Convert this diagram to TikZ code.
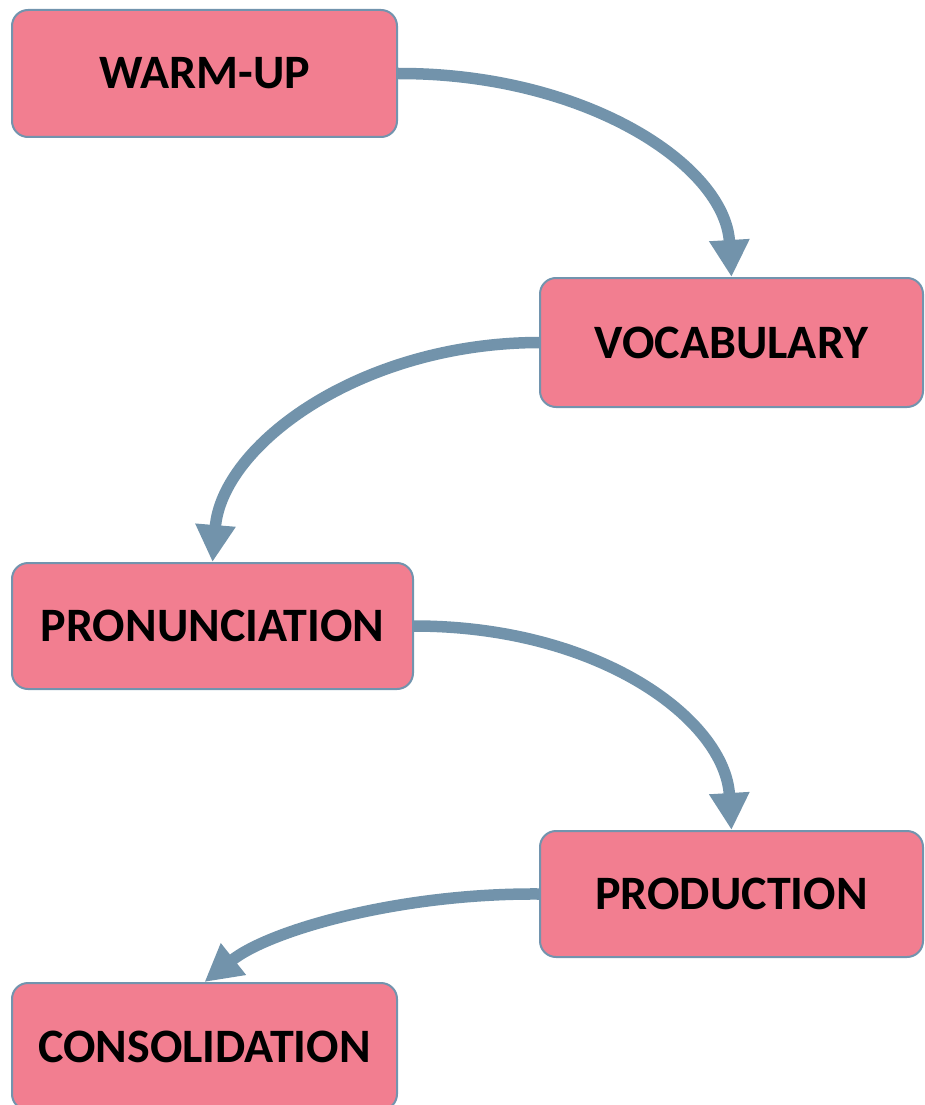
\documentclass[tikz,border=0pt]{standalone}
\usepackage{fontspec}
\setmainfont{Carlito}
\usetikzlibrary{arrows.meta}
\definecolor{boxfill}{HTML}{F27E90}
\definecolor{boxline}{HTML}{7294AE}
\definecolor{arr}{HTML}{7293AB}
\begin{document}
\begin{tikzpicture}[x=1pt,y=1pt,
  stagebox/.style={draw=boxline, line width=2pt, fill=boxfill, rounded corners=16pt,
    inner sep=0pt, font=\fontsize{48}{52}\selectfont\bfseries, text=black},
  flow/.style={draw=arr, line width=11.5pt, -{Triangle[length=37pt,width=38pt]}}]
\useasboundingbox (0,0) rectangle (925,-1105);
\clip (0,0) rectangle (925,-1105);
\node[stagebox, minimum width=385pt, minimum height=127pt] (a) at (204.5,-73.5) {\raisebox{-2pt}{WARM-UP}};
\node[stagebox, minimum width=383pt, minimum height=129pt] (b) at (731.5,-342.5) {\raisebox{-2pt}{VOCABULARY}};
\node[stagebox, minimum width=401pt, minimum height=126pt] (c) at (212.5,-626) {\raisebox{-2pt}{PRONUNCIATION}};
\node[stagebox, minimum width=383pt, minimum height=126pt] (d) at (731.5,-894) {\raisebox{-2pt}{PRODUCTION}};
\node[stagebox, minimum width=385pt, minimum height=127pt] (e) at (204.5,-1046.5) {\raisebox{-2pt}{CONSOLIDATION}};
\draw[flow] (a.east) .. controls (585,-73) and (725,-165) .. (b.north);
\draw[flow] (b.west) .. controls (360,-343) and (222,-445) .. (c.north);
\draw[flow] (c.east) .. controls (600,-626) and (725,-720) .. (d.north);
\draw[flow] (d.west) .. controls (400,-893) and (270,-930) .. (e.north);
\end{tikzpicture}
\end{document}
